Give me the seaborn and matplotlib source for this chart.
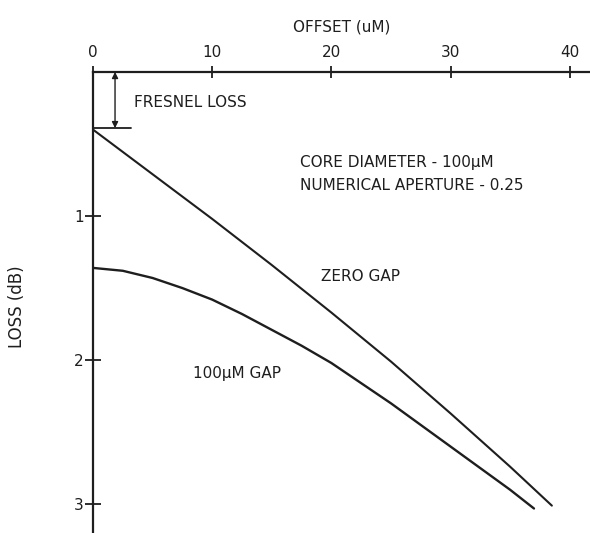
import matplotlib
matplotlib.use("Agg")
import matplotlib.pyplot as plt
import seaborn as sns

# ---- data ----
offset_zero = [0, 5, 10, 15, 20, 25, 30, 35, 38.5]
loss_zero = [0.40, 0.71, 1.02, 1.34, 1.67, 2.01, 2.37, 2.74, 3.01]

offset_gap = [0, 2.5, 5, 7.5, 10, 12.5, 15, 17.5, 20, 22.5, 25, 27.5, 30, 32.5, 35, 37]
loss_gap = [1.36, 1.38, 1.43, 1.50, 1.58, 1.68, 1.79, 1.90, 2.02, 2.16, 2.30, 2.45, 2.60,
            2.75, 2.90, 3.03]

fresnel_loss = 0.39
x_ticks = [0, 10, 20, 30, 40]
y_ticks = [1, 2, 3]

sns.set_style("white")
plt.rcParams['font.family'] = ['DejaVu Sans']

ink = "#1e1e1e"

fig = plt.figure(figsize=(5.9, 5.33), dpi=100)
ax = fig.add_axes([0.1576, 0.0, 0.8424, 0.865])

sns.lineplot(x=offset_zero, y=loss_zero, ax=ax, color=ink, linewidth=1.5)
sns.lineplot(x=offset_gap, y=loss_gap, ax=ax, color=ink, linewidth=1.7)

ax.set_xlim(0, 41.7)
ax.set_ylim(3.2, 0)

# axes: only top and left, ticks crossing the line
for side in ["right", "bottom"]:
    ax.spines[side].set_visible(False)
for side in ["top", "left"]:
    ax.spines[side].set_linewidth(1.6)
    ax.spines[side].set_color(ink)

ax.xaxis.tick_top()
ax.xaxis.set_label_position("top")
ax.set_xticks(x_ticks)
ax.set_yticks(y_ticks)
ax.tick_params(axis="x", top=True, bottom=False, direction="inout", length=9,
               width=1.3, colors=ink, labelsize=11, pad=4)
ax.tick_params(axis="y", left=True, right=False, direction="inout", length=11,
               width=1.3, colors=ink, labelsize=11, pad=1)
ax.set_xlabel("OFFSET (uM)", fontsize=11, color=ink, labelpad=10)
ax.set_ylabel("LOSS (dB)", fontsize=12, color=ink)
ax.yaxis.set_label_coords(-0.135, 0.49)

# fresnel loss marker
ax.plot([0, 3.2], [fresnel_loss, fresnel_loss], color=ink, linewidth=1.3)
ax.annotate("", xy=(1.85, fresnel_loss), xytext=(1.85, 0),
            arrowprops=dict(arrowstyle="<|-|>", color=ink, lw=1.0,
                            mutation_scale=9, shrinkA=0, shrinkB=0))
ax.text(3.4, 0.21, "FRESNEL LOSS", fontsize=11, color=ink, va="center")

ax.text(17.4, 0.63, "CORE DIAMETER - 100µM", fontsize=11, color=ink, va="center")
ax.text(17.4, 0.785, "NUMERICAL APERTURE - 0.25", fontsize=11, color=ink, va="center")
ax.text(19.1, 1.42, "ZERO GAP", fontsize=11, color=ink, va="center")
ax.text(8.4, 2.09, "100µM GAP", fontsize=11, color=ink, va="center")

fig.savefig("out.png", dpi=100)
